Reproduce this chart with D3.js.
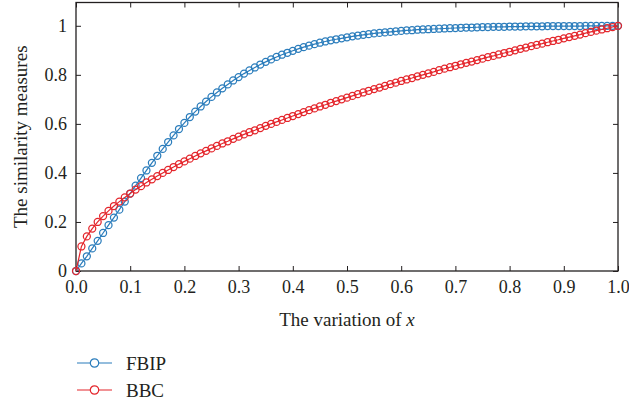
<!DOCTYPE html>
<html>
<head>
<meta charset="utf-8">
<script src="https://cdn.jsdelivr.net/npm/d3@7"></script>
<style>
  html, body { margin: 0; padding: 0; background: #fff; }
  svg { display: block; }
</style>
</head>
<body>
<svg id="chart" width="629" height="404"></svg>
<script>
// x samples (step 0.01)
const xValues = [
  0.00, 0.01, 0.02, 0.03, 0.04, 0.05, 0.06, 0.07, 0.08, 0.09,
  0.10, 0.11, 0.12, 0.13, 0.14, 0.15, 0.16, 0.17, 0.18, 0.19,
  0.20, 0.21, 0.22, 0.23, 0.24, 0.25, 0.26, 0.27, 0.28, 0.29,
  0.30, 0.31, 0.32, 0.33, 0.34, 0.35, 0.36, 0.37, 0.38, 0.39,
  0.40, 0.41, 0.42, 0.43, 0.44, 0.45, 0.46, 0.47, 0.48, 0.49,
  0.50, 0.51, 0.52, 0.53, 0.54, 0.55, 0.56, 0.57, 0.58, 0.59,
  0.60, 0.61, 0.62, 0.63, 0.64, 0.65, 0.66, 0.67, 0.68, 0.69,
  0.70, 0.71, 0.72, 0.73, 0.74, 0.75, 0.76, 0.77, 0.78, 0.79,
  0.80, 0.81, 0.82, 0.83, 0.84, 0.85, 0.86, 0.87, 0.88, 0.89,
  0.90, 0.91, 0.92, 0.93, 0.94, 0.95, 0.96, 0.97, 0.98, 0.99,
  1.00
];

// FBIP similarity
const fbipValues = [
  0.000, 0.031, 0.060, 0.092, 0.123, 0.155, 0.187, 0.218, 0.250, 0.283,
  0.316, 0.348, 0.379, 0.410, 0.441, 0.470, 0.498, 0.526, 0.553, 0.579,
  0.604, 0.628, 0.650, 0.671, 0.691, 0.710, 0.728, 0.745, 0.761, 0.777,
  0.791, 0.805, 0.818, 0.830, 0.842, 0.853, 0.863, 0.873, 0.882, 0.890,
  0.898, 0.906, 0.913, 0.919, 0.925, 0.931, 0.936, 0.941, 0.945, 0.949,
  0.953, 0.957, 0.960, 0.963, 0.966, 0.969, 0.971, 0.973, 0.975, 0.977,
  0.979, 0.981, 0.982, 0.984, 0.985, 0.986, 0.987, 0.988, 0.989, 0.990,
  0.991, 0.992, 0.993, 0.993, 0.994, 0.995, 0.995, 0.996, 0.996, 0.996,
  0.997, 0.997, 0.997, 0.998, 0.998, 0.998, 0.998, 0.999, 0.999, 0.999,
  0.999, 0.999, 0.999, 0.999, 1.000, 1.000, 1.000, 1.000, 1.000, 1.000,
  1.000
];

// BBC similarity
const bbcValues = [
  0.000, 0.100, 0.141, 0.173, 0.200, 0.224, 0.245, 0.265, 0.283, 0.300,
  0.316, 0.332, 0.346, 0.361, 0.374, 0.387, 0.400, 0.412, 0.424, 0.436,
  0.447, 0.458, 0.469, 0.480, 0.490, 0.500, 0.510, 0.520, 0.529, 0.539,
  0.548, 0.557, 0.566, 0.574, 0.583, 0.592, 0.600, 0.608, 0.616, 0.624,
  0.632, 0.640, 0.648, 0.656, 0.663, 0.671, 0.678, 0.686, 0.693, 0.700,
  0.707, 0.714, 0.721, 0.728, 0.735, 0.742, 0.748, 0.755, 0.762, 0.768,
  0.775, 0.781, 0.787, 0.794, 0.800, 0.806, 0.812, 0.819, 0.825, 0.831,
  0.837, 0.843, 0.849, 0.854, 0.860, 0.866, 0.872, 0.877, 0.883, 0.889,
  0.894, 0.900, 0.906, 0.911, 0.917, 0.922, 0.927, 0.933, 0.938, 0.943,
  0.949, 0.954, 0.959, 0.964, 0.970, 0.975, 0.980, 0.985, 0.990, 0.995,
  1.000
];

const xTicks = [0, 0.1, 0.2, 0.3, 0.4, 0.5, 0.6, 0.7, 0.8, 0.9, 1.0];
const yTicks = [0, 0.2, 0.4, 0.6, 0.8, 1];
const yTickLabels = ['0', '0.2', '0.4', '0.6', '0.8', '1'];

const seriesNames = ['FBIP', 'BBC'];
const seriesColors = ['#2b7dbc', '#e4262c'];

const FONT = 'Liberation Serif';
const TEXT_COLOR = '#231f20';

const svg = d3.select('#chart').attr('font-family', FONT);
const margin = { left: 76, right: 11, top: 2.5, bottom: 133 };
const width = 629 - margin.left - margin.right;
const height = 404 - margin.top - margin.bottom;

const x = d3.scaleLinear().domain([0, 1]).range([0, width]);
const y = d3.scaleLinear().domain([0, 1.095]).range([height, 0]);

const g = svg.append('g').attr('transform', `translate(${margin.left},${margin.top})`);

// Axes — ticks point inward on all four sides
const tickLen = 5;
const xBottom = g.append('g').attr('transform', `translate(0,${height})`)
  .call(d3.axisBottom(x).tickValues(xTicks).tickSize(-tickLen).tickPadding(9)
    .tickFormat(d3.format('.1f')));
const xTop = g.append('g')
  .call(d3.axisTop(x).tickValues(xTicks).tickSize(-tickLen).tickFormat(''));
const yLeft = g.append('g')
  .call(d3.axisLeft(y).tickValues(yTicks).tickSize(-tickLen).tickPadding(9)
    .tickFormat((d, i) => yTickLabels[i]));
const yRight = g.append('g').attr('transform', `translate(${width},0)`)
  .call(d3.axisRight(y).tickValues(yTicks).tickSize(-tickLen).tickFormat(''));

[xBottom, xTop, yLeft, yRight].forEach(a => {
  a.attr('font-family', FONT).attr('font-size', 18);
  a.select('.domain').remove();
  a.selectAll('line').attr('stroke', TEXT_COLOR).attr('stroke-width', 1);
  a.selectAll('text').attr('fill', TEXT_COLOR);
});

// Frame
g.append('rect')
  .attr('width', width).attr('height', height)
  .attr('fill', 'none').attr('stroke', TEXT_COLOR).attr('stroke-width', 1.3);

// Series: line + open circle markers
const seriesData = [fbipValues, bbcValues];
const line = d3.line().x(d => x(d[0])).y(d => y(d[1]));

seriesData.forEach((vals, si) => {
  const pts = xValues.map((xv, i) => [xv, vals[i]]);
  g.append('path').datum(pts)
    .attr('fill', 'none').attr('stroke', seriesColors[si]).attr('stroke-width', 1.2)
    .attr('d', line);
  g.append('g').selectAll('circle').data(pts).join('circle')
    .attr('cx', d => x(d[0])).attr('cy', d => y(d[1])).attr('r', 3.5)
    .attr('fill', 'none').attr('stroke', seriesColors[si]).attr('stroke-width', 1.25);
});

// Axis titles
const xTitle = svg.append('text')
  .attr('x', margin.left + width / 2).attr('y', 326)
  .attr('text-anchor', 'middle').attr('font-size', 19).attr('fill', TEXT_COLOR);
xTitle.append('tspan').text('The variation of ');
xTitle.append('tspan').attr('font-style', 'italic').text('x');

svg.append('text')
  .attr('transform', `translate(27,${margin.top + height / 2}) rotate(-90)`)
  .attr('text-anchor', 'middle').attr('font-size', 19).attr('fill', TEXT_COLOR)
  .text('The similarity measures');

// Legend
const legend = svg.append('g').attr('transform', 'translate(77,363)');
seriesNames.forEach((name, i) => {
  const row = legend.append('g').attr('transform', `translate(0,${i * 27})`);
  row.append('line').attr('x1', 0).attr('x2', 35).attr('y1', 0).attr('y2', 0)
    .attr('stroke', seriesColors[i]).attr('stroke-width', 1.2);
  row.append('circle').attr('cx', 17.5).attr('cy', 0).attr('r', 4.2)
    .attr('fill', '#fff').attr('stroke', seriesColors[i]).attr('stroke-width', 1.2);
  row.append('text').attr('x', 49).attr('y', 6.5).attr('font-size', 19)
    .attr('fill', TEXT_COLOR).text(name);
});
</script>
</body>
</html>
